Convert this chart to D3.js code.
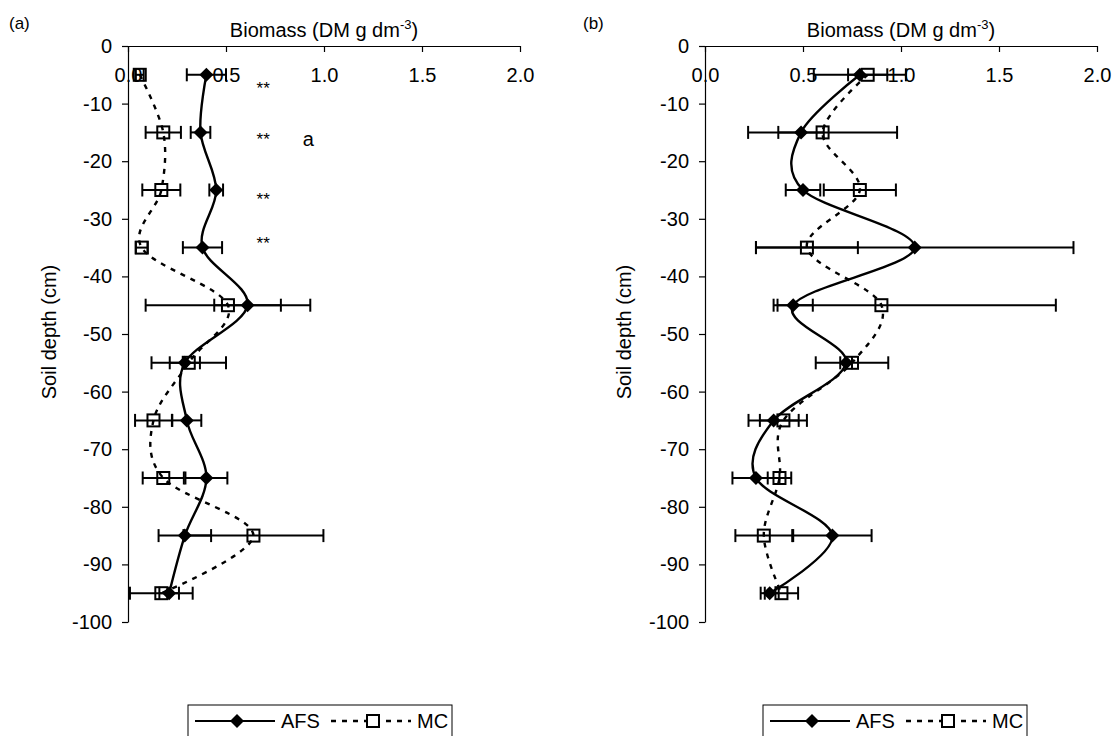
<!DOCTYPE html>
<html>
<head>
<meta charset="utf-8">
<script src="https://cdn.jsdelivr.net/npm/d3@7/dist/d3.min.js"></script>
<style>
  html, body { margin: 0; padding: 0; background: #fff; }
  svg { display: block; font-family: "Liberation Sans", Arial, sans-serif; }
</style>
</head>
<body>
<svg id="chart" width="1116" height="736"></svg>
<script>
// ---- data ----
const depths = [-5, -15, -25, -35, -45, -55, -65, -75, -85, -95];
const xTicks = [0, 0.5, 1.0, 1.5, 2.0];
const yTicks = [0, -10, -20, -30, -40, -50, -60, -70, -80, -90, -100];

// Panel (a)
const afsA    = [0.40, 0.37, 0.45, 0.38, 0.61, 0.29, 0.30, 0.40, 0.29, 0.21];
const afsAErr = [0.10, 0.05, 0.035, 0.10, 0.17, 0.077, 0.074, 0.107, 0.134, 0.05];
const mcA     = [0.06, 0.18, 0.17, 0.07, 0.51, 0.31, 0.13, 0.18, 0.64, 0.17];
const mcAErr  = [0.02, 0.09, 0.097, 0.03, 0.42, 0.19, 0.094, 0.105, 0.357, 0.16];
const sigDepthsA = [-6.4, -15.3, -25.7, -33.3];
const sigLabelsA = ["**", "**", "**", "**"];

// Panel (b)
const afsB    = [0.79, 0.49, 0.50, 1.07, 0.45, 0.72, 0.35, 0.26, 0.65, 0.33];
const afsBErr = [0.235, 0.116, 0.088, 0.81, 0.10, 0.03, 0.128, 0.12, 0.20, 0.046];
const mcB     = [0.83, 0.60, 0.79, 0.52, 0.90, 0.75, 0.40, 0.38, 0.30, 0.39];
const mcBErr  = [0.10, 0.38, 0.184, 0.26, 0.89, 0.185, 0.12, 0.06, 0.145, 0.085];
const mcBErrMinus = [0.10, 0.38, 0.184, 0.26, 0.53, 0.185, 0.12, 0.06, 0.145, 0.085];

const svg = d3.select("#chart");
const FS = 20;

function drawPanel(opt) {
  const x = d3.scaleLinear().domain([0, 2]).range([opt.left, opt.left + 392]);
  const y = d3.scaleLinear().domain([0, -100]).range([46, 622]);
  const g = svg.append("g");

  // panel tag
  g.append("text").attr("x", opt.tagX).attr("y", 29)
    .style("font-size", "17px").text(opt.tag);

  // title
  const t = g.append("text").attr("x", (x(0) + x(2)) / 2).attr("y", 37)
    .attr("text-anchor", "middle").style("font-size", FS + "px");
  t.append("tspan").text("Biomass (DM g dm");
  t.append("tspan").attr("dy", -8).style("font-size", "13px").text("-3");
  t.append("tspan").attr("dy", 8).text(")");

  // x axis (line at depth 0, ticks down, labels below)
  const xa = g.append("g").attr("transform", `translate(0,${y(0)})`)
    .call(d3.axisBottom(x).tickValues(xTicks).tickFormat(d3.format(".1f"))
      .tickSize(6).tickSizeOuter(0));
  xa.select(".domain").attr("stroke", "#000").attr("stroke-width", 1.2);
  xa.selectAll(".tick line").attr("stroke", "#000").attr("stroke-width", 1.2);
  xa.selectAll(".tick text").attr("y", 36).attr("dy", 0)
    .style("font-size", FS + "px").style("font-family", "Liberation Sans, Arial, sans-serif")
    .attr("fill", "#000");

  // y axis
  const ya = g.append("g").attr("transform", `translate(${x(0)},0)`)
    .call(d3.axisLeft(y).tickValues(yTicks).tickFormat(d => String(d))
      .tickSize(6).tickPadding(10).tickSizeOuter(0));
  ya.select(".domain").attr("stroke", "#000").attr("stroke-width", 1.2);
  ya.selectAll(".tick line").attr("stroke", "#000").attr("stroke-width", 1.2);
  ya.selectAll(".tick text").style("font-size", FS + "px")
    .style("font-family", "Liberation Sans, Arial, sans-serif").attr("fill", "#000");

  // y label
  g.append("text").attr("transform", `translate(${opt.ylabX},332) rotate(-90)`)
    .attr("text-anchor", "middle").style("font-size", FS + "px").text("Soil depth (cm)");

  const series = [
    { v: opt.mc, e: opt.mcErr, em: opt.mcErrMinus || opt.mcErr, dash: "5,6", marker: "square" },
    { v: opt.afs, e: opt.afsErr, em: opt.afsErr, dash: null, marker: "diamond" }
  ];

  // error bars
  series.forEach(s => {
    const eb = g.append("g");
    depths.forEach((d, i) => {
      const x0 = x(Math.max(0, s.v[i] - s.em[i])), x1 = x(s.v[i] + s.e[i]), yy = y(d);
      eb.append("line").attr("x1", x0).attr("x2", x1).attr("y1", yy).attr("y2", yy)
        .attr("stroke", "#000").attr("stroke-width", 2);
      [x0, x1].forEach(xx => eb.append("line").attr("x1", xx).attr("x2", xx)
        .attr("y1", yy - 6.5).attr("y2", yy + 6.5).attr("stroke", "#000").attr("stroke-width", 2));
    });
  });

  // lines
  const line = d3.line().x(p => x(p[0])).y(p => y(p[1])).curve(d3.curveCatmullRom.alpha(0));
  series.forEach(s => {
    g.append("path").datum(s.v.map((v, i) => [v, depths[i]]))
      .attr("d", line).attr("fill", "none").attr("stroke", "#000")
      .attr("stroke-width", 2.4).attr("stroke-dasharray", s.dash);
  });

  // markers
  series.forEach(s => {
    s.v.forEach((v, i) => {
      const cx = x(v), cy = y(depths[i]);
      if (s.marker === "diamond") {
        g.append("path").attr("d", `M${cx},${cy - 7}L${cx + 7},${cy}L${cx},${cy + 7}L${cx - 7},${cy}Z`)
          .attr("fill", "#000");
      } else {
        g.append("rect").attr("x", cx - 6).attr("y", cy - 6).attr("width", 12).attr("height", 12)
          .attr("fill", "none").attr("stroke", "#000").attr("stroke-width", 2);
      }
    });
  });

  // significance marks
  if (opt.sig) {
    opt.sig.forEach((d, i) => {
      g.append("text").attr("x", x(0.69)).attr("y", y(d) + 11).attr("text-anchor", "middle")
        .style("font-size", "17px").text(opt.sigLabels[i]);
    });
    g.append("text").attr("x", x(0.92)).attr("y", y(-16.3) + 6).attr("text-anchor", "middle")
      .style("font-size", FS + "px").text("a");
  }

  // legend
  const L = opt.legendX, T = 705;
  const lg = g.append("g");
  lg.append("rect").attr("x", L).attr("y", T).attr("width", 264).attr("height", 34)
    .attr("fill", "#fff").attr("stroke", "#000").attr("stroke-width", 1);
  const ly = T + 16;
  lg.append("line").attr("x1", L + 7).attr("x2", L + 87).attr("y1", ly).attr("y2", ly)
    .attr("stroke", "#000").attr("stroke-width", 2);
  const dx = L + 49;
  lg.append("path").attr("d", `M${dx},${ly - 7}L${dx + 7},${ly}L${dx},${ly + 7}L${dx - 7},${ly}Z`).attr("fill", "#000");
  lg.append("text").attr("x", L + 93).attr("y", ly + 7).style("font-size", FS + "px").text("AFS");
  lg.append("line").attr("x1", L + 143).attr("x2", L + 223).attr("y1", ly).attr("y2", ly)
    .attr("stroke", "#000").attr("stroke-width", 2.4).attr("stroke-dasharray", "5,6");
  lg.append("rect").attr("x", L + 179).attr("y", ly - 6).attr("width", 12).attr("height", 12)
    .attr("fill", "#fff").attr("stroke", "#000").attr("stroke-width", 2);
  lg.append("text").attr("x", L + 229).attr("y", ly + 7).style("font-size", FS + "px").text("MC");
}

drawPanel({ left: 128, tag: "(a)", tagX: 9, ylabX: 56, afs: afsA, afsErr: afsAErr, mc: mcA, mcErr: mcAErr,
  sig: sigDepthsA, sigLabels: sigLabelsA, legendX: 188 });
drawPanel({ left: 705, tag: "(b)", tagX: 583, ylabX: 631, afs: afsB, afsErr: afsBErr, mc: mcB, mcErr: mcBErr,
  mcErrMinus: mcBErrMinus, sig: null, legendX: 763 });
</script>
</body>
</html>
